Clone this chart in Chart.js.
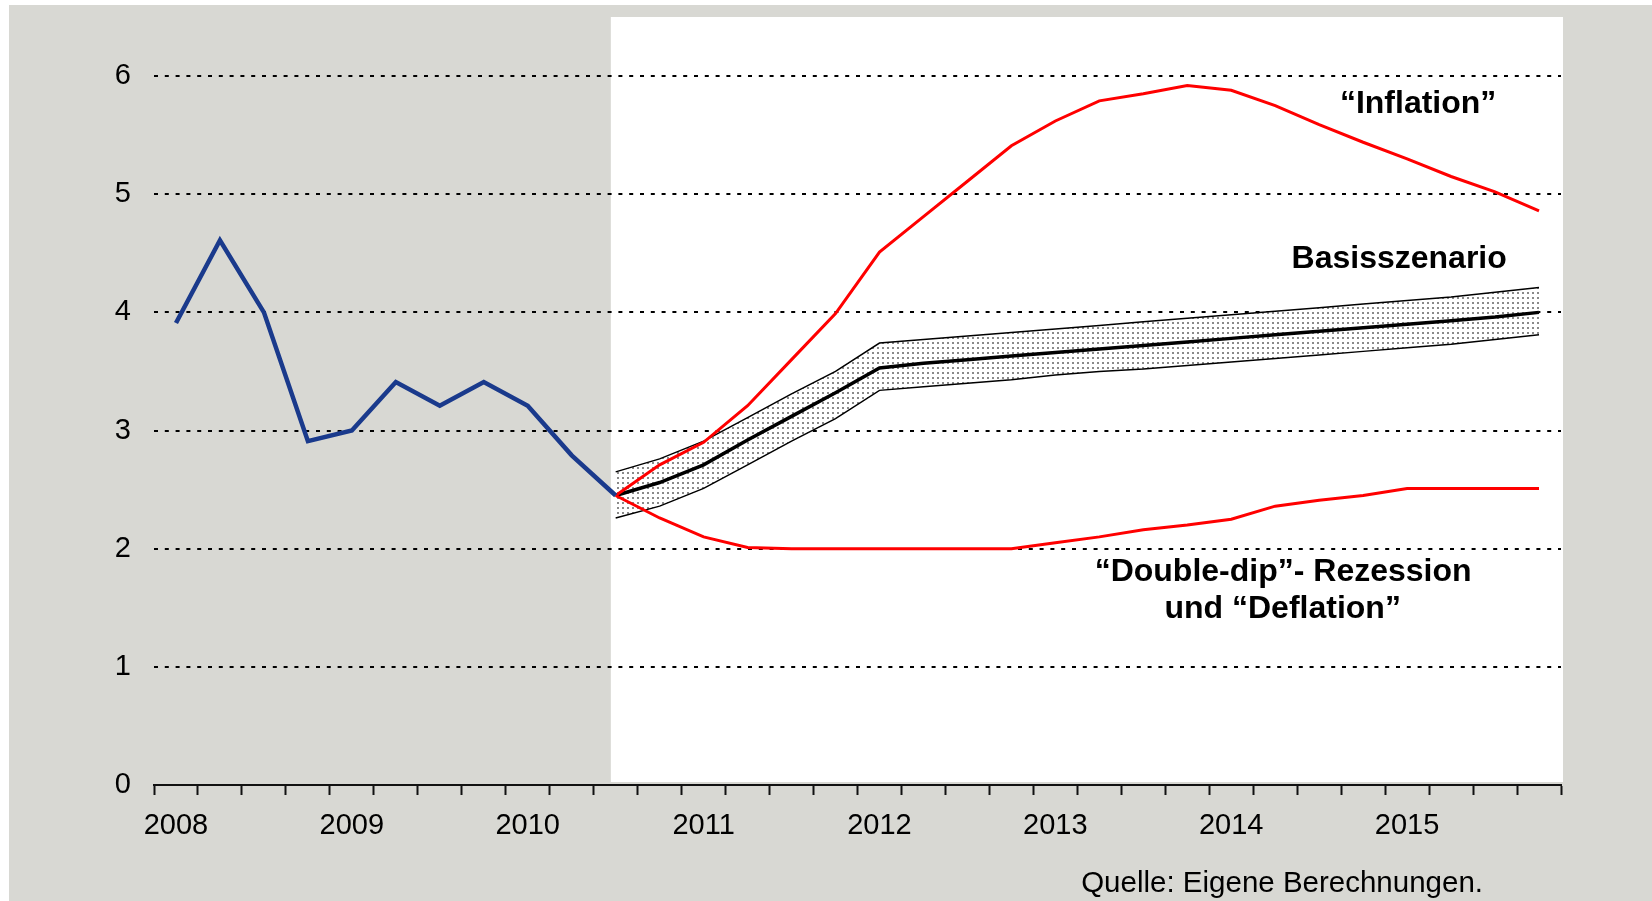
<!DOCTYPE html>
<html>
<head>
<meta charset="utf-8">
<script src="https://cdn.jsdelivr.net/npm/chart.js@4.4.0/dist/chart.umd.min.js"></script>
<style>
  html, body { margin: 0; padding: 0; background: #fff; }
</style>
</head>
<body>
<canvas id="myChart" width="1652" height="901"></canvas>
<script>
// Kategorien: Quartale 2008-2015
var jahre = ['2008', '2009', '2010', '2011', '2012', '2013', '2014', '2015'];
var quartale = ['Q1', 'Q2', 'Q3', 'Q4'];
var labels = [];
jahre.forEach(function(j) {
	quartale.forEach(function(q) { labels.push(j + q); });
});

// Ist-Werte 2008Q1 bis 2010Q3
var ist = [3.91, 4.61, 4.00, 2.91, 3.00, 3.41, 3.21, 3.41, 3.21, 2.79, 2.45];

// Szenarien ab 2010Q3
var basis       = [2.45, 2.56, 2.71, 2.92, 3.12, 3.32, 3.53, 3.57, 3.60, 3.63, 3.66, 3.69, 3.72, 3.75, 3.78, 3.81, 3.84, 3.87, 3.90, 3.93, 3.96, 4.00];
var obergrenze  = [2.65, 2.76, 2.91, 3.11, 3.31, 3.50, 3.74, 3.77, 3.80, 3.83, 3.86, 3.89, 3.92, 3.95, 3.98, 4.01, 4.04, 4.07, 4.10, 4.13, 4.17, 4.21];
var untergrenze = [2.26, 2.36, 2.51, 2.71, 2.91, 3.10, 3.34, 3.37, 3.40, 3.43, 3.47, 3.50, 3.52, 3.55, 3.58, 3.61, 3.64, 3.67, 3.70, 3.73, 3.77, 3.81];
var inflation   = [2.45, 2.71, 2.90, 3.21, 3.60, 3.99, 4.51, 4.81, 5.11, 5.41, 5.62, 5.79, 5.85, 5.92, 5.88, 5.75, 5.59, 5.44, 5.30, 5.15, 5.02, 4.86];
var deflation   = [2.45, 2.26, 2.10, 2.01, 2.00, 2.00, 2.00, 2.00, 2.00, 2.00, 2.05, 2.10, 2.16, 2.20, 2.25, 2.36, 2.41, 2.45, 2.51, 2.51, 2.51, 2.51];

var yTicks = [0, 1, 2, 3, 4, 5, 6];

function abPrognose(arr) {
	return new Array(labels.length - arr.length).fill(null).concat(arr);
}

var schrift = '"Liberation Sans", Arial, sans-serif';

// gepunktetes Muster fuer das Band
var musterCanvas = document.createElement('canvas');
musterCanvas.width = 5;
musterCanvas.height = 5;
var mc = musterCanvas.getContext('2d');
mc.fillStyle = '#ffffff';
mc.fillRect(0, 0, 5, 5);
mc.fillStyle = '#8a8a8a';
mc.fillRect(2, 2, 2, 2);
var muster = mc.createPattern(musterCanvas, 'repeat');

var hintergrund = {
	id: 'hintergrund',
	beforeDraw: function(chart) {
		var ctx = chart.ctx, a = chart.chartArea, x = chart.scales.x;
		ctx.save();
		ctx.fillStyle = '#ffffff';
		ctx.fillRect(0, 0, chart.width, chart.height);
		ctx.fillStyle = '#d8d8d3';
		ctx.fillRect(9, 5, chart.width - 9, chart.height - 5);
		var x0 = x.getPixelForValue(9.89);
		ctx.fillStyle = '#ffffff';
		ctx.fillRect(x0, a.top, a.right + 2 - x0, a.bottom - 3 - a.top);
		ctx.restore();
	}
};

var beschriftung = {
	id: 'beschriftung',
	afterDatasetsDraw: function(chart) {
		var ctx = chart.ctx, x = chart.scales.x, y = chart.scales.y;
		ctx.save();
		ctx.fillStyle = '#000000';
		ctx.textAlign = 'center';
		ctx.textBaseline = 'middle';
		ctx.font = 'bold 32px ' + schrift;
		ctx.fillText('\u201CInflation\u201D', x.getPixelForValue(28.25), y.getPixelForValue(5.76));
		ctx.fillText('Basisszenario', x.getPixelForValue(27.82), y.getPixelForValue(4.45));
		ctx.fillText('\u201CDouble-dip\u201D- Rezession', x.getPixelForValue(25.18), y.getPixelForValue(1.80));
		ctx.fillText('und \u201CDeflation\u201D', x.getPixelForValue(25.17), y.getPixelForValue(1.49));
		ctx.font = '29.5px ' + schrift;
		ctx.textAlign = 'right';
		ctx.fillText('Quelle: Eigene Berechnungen.', 1483, 884);
		ctx.restore();
	}
};

var ctx = document.getElementById('myChart').getContext('2d');
var myChart = new Chart(ctx, {
	type: 'line',
	data: {
		labels: labels,
		datasets: [{
			label: 'Obergrenze',
			data: abPrognose(obergrenze),
			borderColor: '#000000',
			borderWidth: 1.5,
			backgroundColor: muster,
			fill: '+1',
			order: 5
		}, {
			label: 'Untergrenze',
			data: abPrognose(untergrenze),
			borderColor: '#000000',
			borderWidth: 1.5,
			fill: false,
			order: 4
		}, {
			label: 'Basisszenario',
			data: abPrognose(basis),
			borderColor: '#000000',
			borderWidth: 3.5,
			fill: false,
			order: 3
		}, {
			label: 'Inflation',
			data: abPrognose(inflation),
			borderColor: '#ff0000',
			borderWidth: 3,
			fill: false,
			order: 2
		}, {
			label: 'Deflation',
			data: abPrognose(deflation),
			borderColor: '#ff0000',
			borderWidth: 3,
			fill: false,
			order: 2
		}, {
			label: 'Ist',
			data: ist,
			borderColor: '#1a3a8c',
			borderWidth: 4.5,
			fill: false,
			order: 1
		}]
	},
	options: {
		responsive: false,
		animation: false,
		layout: { padding: { top: 17, right: 91, bottom: 0, left: 0 } },
		elements: {
			point: { radius: 0 },
			line: { tension: 0 }
		},
		plugins: {
			legend: { display: false },
			tooltip: { enabled: false }
		},
		scales: {
			x: {
				type: 'category',
				offset: true,
				afterFit: function(s) { s.height = 116; },
				grid: {
					offset: true,
					drawOnChartArea: false,
					drawTicks: true,
					tickLength: 10,
					tickWidth: 2,
					tickColor: '#111111'
				},
				border: { display: true, color: '#111111', width: 2 },
				ticks: {
					autoSkip: false,
					maxRotation: 0,
					padding: 14,
					color: '#000000',
					font: { family: schrift, size: 29 },
					callback: function(v, i) { return i % 4 === 0 ? jahre[i / 4] : ''; }
				}
			},
			y: {
				min: 0,
				max: 6.5,
				afterFit: function(s) { s.width = 154; s.paddingTop = 0; s.paddingBottom = 0; },
				afterBuildTicks: function(s) {
					s.ticks = yTicks.map(function(v) { return { value: v }; });
				},
				grid: {
					drawTicks: true,
					tickLength: 23,
					tickColor: 'rgba(0,0,0,0)',
					lineWidth: 2,
					color: function(c) { return c.tick && c.tick.value === 0 ? 'rgba(0,0,0,0)' : '#000000'; }
				},
				border: { display: false, dash: [4, 6.8] },
				ticks: {
					padding: 0,
					color: '#000000',
					font: { family: schrift, size: 29 }
				}
			}
		}
	},
	plugins: [hintergrund, beschriftung]
});
</script>
</body>
</html>
